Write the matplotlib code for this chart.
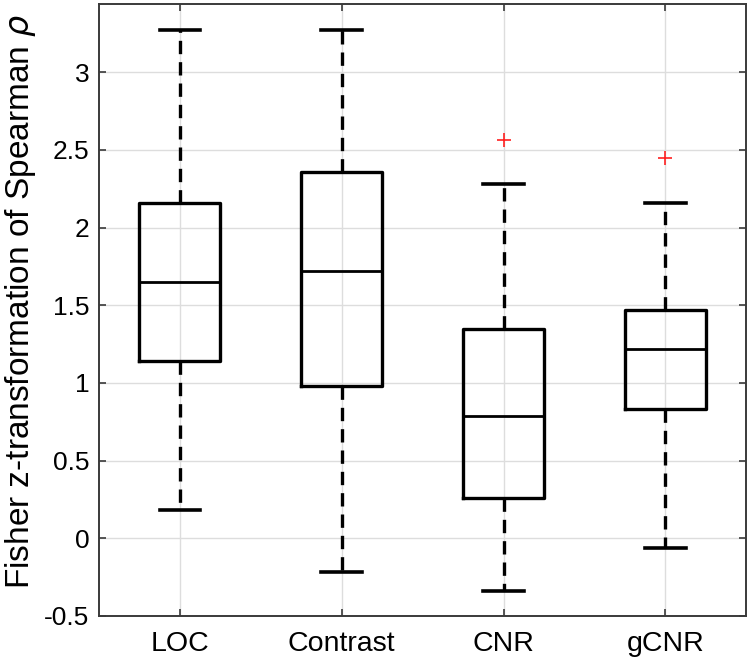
import matplotlib
matplotlib.use('Agg')
import matplotlib.pyplot as plt

# box statistics
labels = ['LOC', 'Contrast', 'CNR', 'gCNR']
whisk_lo = [0.18, -0.22, -0.34, -0.06]
q1 = [1.14, 0.98, 0.26, 0.83]
medians = [1.65, 1.72, 0.79, 1.22]
q3 = [2.16, 2.36, 1.35, 1.47]
whisk_hi = [3.27, 3.27, 2.28, 2.16]
outliers = [[], [], [2.565], [2.45]]

yticks = [-0.5, 0, 0.5, 1, 1.5, 2, 2.5, 3]
ytick_labels = ['-0.5', '0', '0.5', '1', '1.5', '2', '2.5', '3']

plt.rcParams['font.family'] = ['Liberation Sans', 'DejaVu Sans']

stats = []
for i in range(len(labels)):
    stats.append({
        'label': labels[i],
        'whislo': whisk_lo[i],
        'q1': q1[i],
        'med': medians[i],
        'q3': q3[i],
        'whishi': whisk_hi[i],
        'fliers': outliers[i],
    })

fig = plt.figure(figsize=(7.5, 6.63), dpi=100)
ax = fig.add_axes([0.132, 0.071, 0.863, 0.923])

ax.bxp(
    stats,
    positions=[1, 2, 3, 4],
    widths=0.5,
    boxprops=dict(color='black', linewidth=2.4),
    medianprops=dict(color='black', linewidth=2.0),
    whiskerprops=dict(color='black', linewidth=2.4, linestyle=(0, (4.0, 2.4))),
    capprops=dict(color='black', linewidth=2.6),
    capwidths=0.25,
    flierprops=dict(marker='+', markeredgecolor='#ff2020', markersize=10,
                    markeredgewidth=1.2, linestyle='none'),
)

ax.set_xlim(0.5, 4.5)
ax.set_ylim(-0.5, 3.44)
ax.set_yticks(yticks)
ax.set_yticklabels(ytick_labels)
ax.set_xticks([1, 2, 3, 4])
ax.set_xticklabels(labels)

ax.grid(True, color='#dddddd', linewidth=1.0)
ax.set_axisbelow(True)
for s in ax.spines.values():
    s.set_color('#3a3a3a')
    s.set_linewidth(1.4)
ax.tick_params(direction='in', length=5, width=1.2, colors='#3a3a3a',
               labelcolor='black', labelsize=19, top=True, right=True, pad=7)
ax.tick_params(axis='x', labelsize=20.5, pad=11)

ax.set_ylabel(r'Fisher z-transformation of Spearman $\rho$', fontsize=24)
ax.yaxis.set_label_coords(-0.095, 0.515)

fig.savefig('out.png', dpi=100)
